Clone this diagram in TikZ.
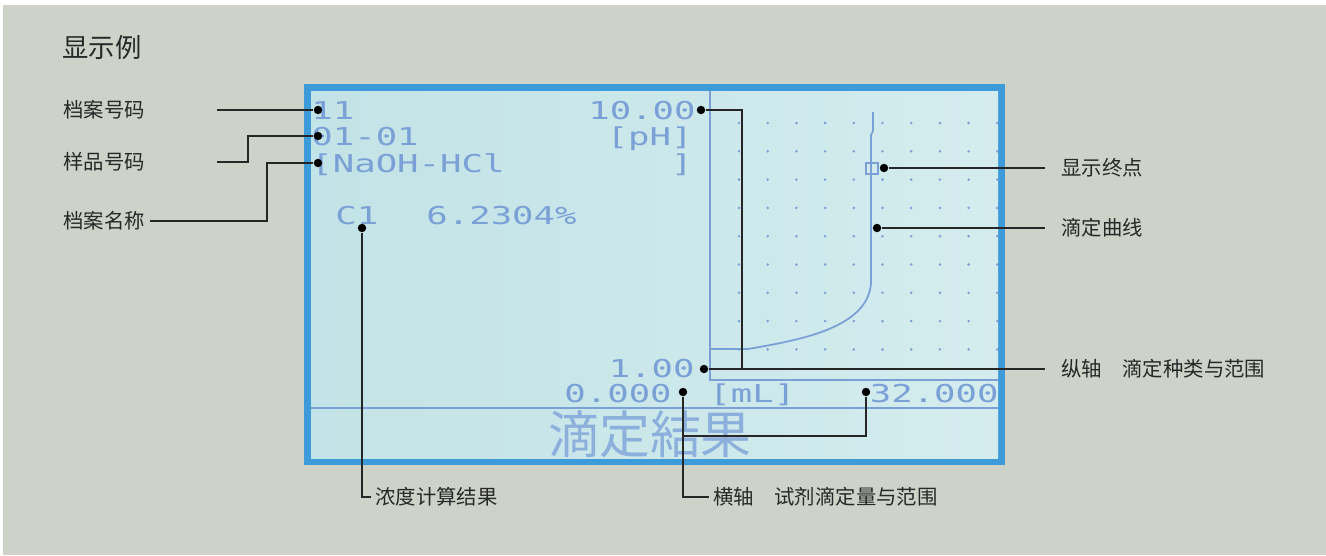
\documentclass[tikz,border=0pt]{standalone}
\usepackage{fontspec}
\usepackage{graphicx}
\usetikzlibrary{positioning, calc}
\newfontfamily\cjk{Noto Sans CJK SC}
\newfontfamily\cjkjp{Noto Sans CJK JP}
\newfontfamily\lcdfont{DejaVu Sans Mono}
\definecolor{bg}{RGB}{205,211,201}
\definecolor{screenL}{RGB}{194,227,231}
\definecolor{screenR}{RGB}{212,236,238}
\definecolor{frame}{RGB}{62,155,218}
\definecolor{lcd}{RGB}{122,160,214}
\definecolor{lcdsoft}{RGB}{140,175,220}
\definecolor{ink}{RGB}{40,40,40}
\newcommand{\lcd}[1]{\scalebox{1.45}[1]{#1}}

\tikzset{
  lcdtext/.style={text=lcd, inner sep=0pt, font=\lcdfont\fontsize{14}{14}\selectfont},
  tag/.style={text=ink, inner sep=0pt, anchor=west, font=\cjk\fontsize{11.6}{12}\selectfont},
  lead/.style={draw=black!85, line width=0.8pt},
  blob/.style={circle, fill=black, inner sep=0pt, minimum size=4.8pt},
  trace/.style={draw=lcd, line width=1pt},
}

\begin{document}
\begin{tikzpicture}[x=0.02cm, y=-0.02cm]
\useasboundingbox (0,0) rectangle (1326,555);
\fill[white] (0,0) rectangle (1326,555);
\fill[bg] (3,5) rectangle (1326,555);

% screen
\fill[frame] (304,84) rectangle (1005,465);
\shade[left color=screenL, right color=screenR] (311,91) rectangle (998,458);

% graph
\draw[trace] (710,91) -- (710,380) -- (998,380);
\draw[trace] (311,408) -- (998,408);
\foreach \i in {0,...,9}
  \foreach \j in {0,...,8}
    \fill[lcd] ({739+28.7*\i},{123+28.3*\j}) circle (0.8pt);
\draw[trace] (710,349) -- (748,349) .. controls (800,340) and (868,328) .. (871,283)
  -- (871,135) -- (873,131) -- (873,112);
\draw[trace] (866,163) rectangle (878,174);

% lcd text
\node[lcdtext, anchor=base west] (n11) at (311,119) {\lcd{11}};
\node[lcdtext, anchor=base east] (ntop) at (696,119) {\lcd{10.00}};
\node[lcdtext, anchor=base west] (n0101) at (311,145) {\lcd{01-01}};
\node[lcdtext, anchor=base east] (nph) at (693,145) {\lcd{[pH]}};
\node[lcdtext, anchor=base west] (nname) at (311,172) {\lcd{[NaOH-HCl}};
\node[lcdtext, anchor=base east] (nbr) at (693,172) {\lcd{]}};
\node[lcdtext, anchor=base west] (nc1) at (335,224) {\lcd{C1}};
\node[lcdtext, anchor=base west] (nval) at (426,224) {\lcd{6.2304\%}};
\node[lcdtext, anchor=base east] (nlow) at (695,377) {\lcd{1.00}};
\node[lcdtext, anchor=base west] (nx0) at (564,402) {\lcd{0.000}};
\node[lcdtext, anchor=base west] (nml) at (709,402) {\lcd{[mL]}};
\node[lcdtext, anchor=base east] (nx1) at (999,402) {\lcd{32.000}};
\node[text=lcdsoft, inner sep=0pt, font=\cjkjp\fontsize{29}{29}\selectfont] (res) at (650,434) {滴定結果};

% labels
\node[tag, font=\cjk\fontsize{15}{16}\selectfont] (title) at (62,48) {显示例};
\node[tag] (t1) at (63,110) {档案号码};
\node[tag] (t2) at (63,162) {样品号码};
\node[tag] (t3) at (63,221) {档案名称};
\node[tag] (t4) at (1061,168) {显示终点};
\node[tag] (t5) at (1061,228) {滴定曲线};
\node[tag] (t6) at (1061,369) {纵轴　滴定种类与范围};
\node[tag] (t7) at (375,497) {浓度计算结果};
\node[tag] (t8) at (713,497) {横轴　试剂滴定量与范围};

% dots
\node[blob] (d11) at (318,110) {};
\node[blob] (d0101) at (318,136) {};
\node[blob] (dname) at (318,163) {};
\node[blob] (dtop) at (701,110) {};
\node[blob] (dend) at (884,168) {};
\node[blob] (dcurve) at (877,228) {};
\node[blob] (dlow) at (704,369) {};
\node[blob] (dc1) at (362,228) {};
\node[blob] (dx0) at (683,392) {};
\node[blob] (dx1) at (866,392) {};

% leaders
\coordinate (a1) at (217,110);
\coordinate (a2) at (217,162);
\coordinate (a3) at (150,221);
\draw[lead] (a1) -- (d11);
\draw[lead] (a2) -- ++(31,0) |- (d0101);
\draw[lead] (a3) -- ++(117,0) |- (dname);
\draw[lead] (dtop) -| ($(dlow)+(38,0)$);
\draw[lead] (dlow) -- ($(t6.west)+(-16,0)$);
\draw[lead] (dend) -- ($(t4.west)+(-16,0)$);
\draw[lead] (dcurve) -- ($(t5.west)+(-16,0)$);
\draw[lead] (dc1) |- ($(t7.west)+(-4,0)$);
\draw[lead] (dx0) |- ($(t8.west)+(-4,0)$);
\draw[lead] (dx1) |- ($(dx0)+(0,44)$);
\end{tikzpicture}
\end{document}
